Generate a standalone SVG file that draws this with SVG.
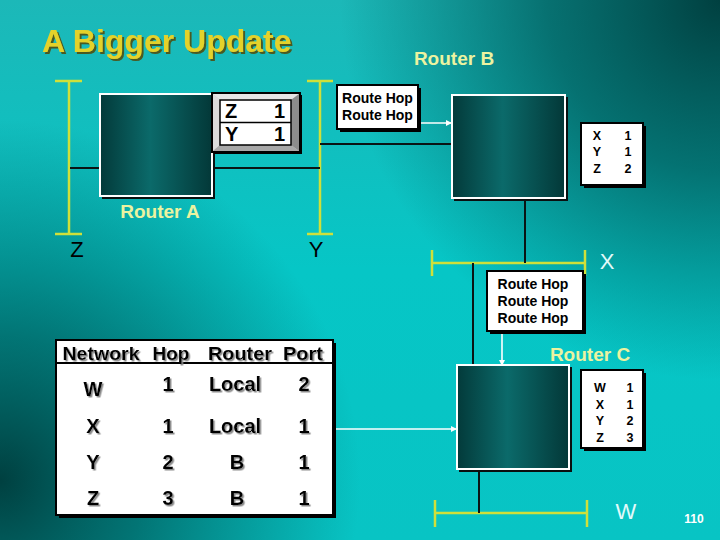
<svg xmlns="http://www.w3.org/2000/svg" width="720" height="540" viewBox="0 0 720 540">
<defs>
<radialGradient id="darkTR" cx="720" cy="0" r="380" gradientUnits="userSpaceOnUse">
<stop offset="0" stop-color="#004040" stop-opacity="1"/>
<stop offset="0.45" stop-color="#005858" stop-opacity="0.75"/>
<stop offset="1" stop-color="#006060" stop-opacity="0"/>
</radialGradient>
<radialGradient id="darkBL" cx="0" cy="480" r="360" gradientUnits="userSpaceOnUse">
<stop offset="0" stop-color="#004040" stop-opacity="1"/>
<stop offset="0.4" stop-color="#005a5a" stop-opacity="0.75"/>
<stop offset="1" stop-color="#006060" stop-opacity="0"/>
</radialGradient>
<linearGradient id="bg" x1="0" y1="0" x2="0" y2="1">
<stop offset="0" stop-color="#1cb8b8"/>
<stop offset="0.5" stop-color="#06c6c6"/>
<stop offset="1" stop-color="#08c4c4"/>
</linearGradient>
<linearGradient id="rtr" x1="0" y1="0" x2="1" y2="0">
<stop offset="0" stop-color="#033a3a"/>
<stop offset="0.45" stop-color="#0b6a6a"/>
<stop offset="1" stop-color="#033838"/>
</linearGradient>
<filter id="ts" x="-10%" y="-10%" width="130%" height="130%">
<feDropShadow dx="1.5" dy="1.5" stdDeviation="0.3" flood-color="#8a8a8a"/>
</filter>
<filter id="tts" x="-10%" y="-10%" width="130%" height="140%">
<feDropShadow dx="2" dy="2" stdDeviation="0.4" flood-color="#4a5a20"/>
</filter>
<marker id="wa" viewBox="0 0 6 6" refX="6" refY="3" markerWidth="6" markerHeight="6" markerUnits="userSpaceOnUse" orient="auto">
<path d="M0,0 L6,3 L0,6 z" fill="#ffffff"/>
</marker>
<style>
.seg{stroke:#cfe03a;stroke-width:2.5;fill:none}
.wire{stroke:#0a1414;stroke-width:2;fill:none}
.wwire{stroke:#ffffff;stroke-width:1.6;fill:none;marker-end:url(#wa)}
.router{fill:url(#rtr);stroke:#ffffff;stroke-width:2}
.rshadow{fill:#0a1010}
.box{fill:#ffffff;stroke:#000000;stroke-width:2}
.bshadow{fill:#000000}
.title{font-family:"Liberation Sans",Arial,sans-serif;font-weight:bold;font-size:32px;fill:#e4d22c}
.rlabel{font-family:"Liberation Sans",Arial,sans-serif;font-weight:bold;font-size:19px;fill:#ecf3a0}
.netk{font-family:"Liberation Sans",Arial,sans-serif;font-size:22px;fill:#000000}
.netw{font-family:"Liberation Sans",Arial,sans-serif;font-size:22px;fill:#e2fafa}
.rh{font-family:"Liberation Sans",Arial,sans-serif;font-weight:bold;font-size:14px;fill:#000000}
.sm{font-family:"Liberation Sans",Arial,sans-serif;font-weight:bold;font-size:12.5px;fill:#000000}
.big{font-family:"Liberation Sans",Arial,sans-serif;font-weight:bold;font-size:20px;fill:#000000}
.hdr{font-family:"Liberation Sans",Arial,sans-serif;font-weight:bold;font-size:18px;fill:#000000}
.pg{font-family:"Liberation Sans",Arial,sans-serif;font-weight:bold;font-size:12px;fill:#ffffff}
</style>
</defs>

<!-- background -->
<rect x="0" y="0" width="720" height="540" fill="url(#bg)"/>
<rect x="0" y="0" width="720" height="540" fill="url(#darkTR)"/>
<rect x="0" y="0" width="720" height="540" fill="url(#darkBL)"/>

<text class="title" x="42" y="52" filter="url(#tts)">A Bigger Update</text>

<!-- network segments -->
<g id="seg-Z">
<path class="seg" d="M69,81 V234 M55,81 H82 M55,234 H82"/>
<text class="netk" x="77" y="257" text-anchor="middle">Z</text>
</g>
<g id="seg-Y">
<path class="seg" d="M320,81 V234 M307,81 H333 M307,234 H333"/>
<text class="netk" x="316" y="257" text-anchor="middle">Y</text>
</g>
<g id="seg-X">
<path class="seg" d="M432,263 H585 M432,250 V276 M585,250 V276"/>
<text class="netw" x="607" y="269" text-anchor="middle">X</text>
</g>
<g id="seg-W">
<path class="seg" d="M435,513 H587 M435,500 V527 M587,500 V527"/>
<text class="netw" x="626" y="519" text-anchor="middle">W</text>
</g>

<!-- connectors -->
<g id="connectors">
<path class="wire" d="M70,168 H100"/>
<path class="wire" d="M212,168 H320"/>
<path class="wire" d="M320,144 H452"/>
<path class="wire" d="M525,198 V263"/>
<path class="wire" d="M473,263 V366"/>
<path class="wire" d="M479,469 V513"/>
<path class="wwire" d="M418,123 H452"/>
<path class="wwire" d="M502,331 V366"/>
<path class="wwire" d="M335,429 H457"/>
</g>

<!-- Router A -->
<g id="router-A">
<rect class="rshadow" x="102" y="96" width="113" height="103"/>
<rect class="router" x="100" y="94" width="112" height="102"/>
<text class="rlabel" x="160" y="218" text-anchor="middle">Router A</text>
</g>

<!-- Router A table (beveled) -->
<g id="table-A">
<rect x="214" y="95" width="88" height="59" fill="#000000"/>
<rect x="212" y="93" width="88" height="59" fill="#c4c4c4" stroke="#000000" stroke-width="2"/>
<polygon points="213,94 299,94 291,100 220,100" fill="#e6e6e6"/>
<polygon points="213,94 220,100 220,145 213,151" fill="#dcdcdc"/>
<polygon points="299,94 299,151 291,145 291,100" fill="#8c8c8c"/>
<polygon points="213,151 220,145 291,145 299,151" fill="#a8a8a8"/>
<rect x="220" y="100" width="71" height="45" fill="#ffffff" stroke="#000000" stroke-width="1.5"/>
<line x1="220" y1="122.5" x2="291" y2="122.5" stroke="#000000" stroke-width="1.5"/>
<text class="big" x="225" y="118">Z</text>
<text class="big" x="285" y="118" text-anchor="end">1</text>
<text class="big" x="225" y="141">Y</text>
<text class="big" x="285" y="141" text-anchor="end">1</text>
</g>

<!-- Router B update box -->
<g id="update-B">
<rect class="bshadow" x="340" y="88" width="81" height="44"/>
<rect class="box" x="337" y="85" width="81" height="44"/>
<text class="rh" x="377.5" y="103" text-anchor="middle">Route Hop</text>
<text class="rh" x="377.5" y="120" text-anchor="middle">Route Hop</text>
</g>

<!-- Router B -->
<g id="router-B">
<rect class="rshadow" x="454" y="97" width="114" height="104"/>
<rect class="router" x="452" y="95" width="113" height="103"/>
<text class="rlabel" x="454" y="65" text-anchor="middle">Router B</text>
</g>

<!-- Router B table -->
<g id="table-B">
<rect class="bshadow" x="584" y="126" width="62" height="62"/>
<rect class="box" x="581" y="123" width="62" height="62"/>
<text class="sm" x="597" y="140" text-anchor="middle">X</text>
<text class="sm" x="628" y="140" text-anchor="middle">1</text>
<text class="sm" x="597" y="156" text-anchor="middle">Y</text>
<text class="sm" x="628" y="156" text-anchor="middle">1</text>
<text class="sm" x="597" y="173" text-anchor="middle">Z</text>
<text class="sm" x="628" y="173" text-anchor="middle">2</text>
</g>

<!-- Router C update box -->
<g id="update-C">
<rect class="bshadow" x="490" y="274" width="96" height="60"/>
<rect class="box" x="487" y="271" width="96" height="60"/>
<text class="rh" x="533" y="289" text-anchor="middle">Route Hop</text>
<text class="rh" x="533" y="306" text-anchor="middle">Route Hop</text>
<text class="rh" x="533" y="323" text-anchor="middle">Route Hop</text>
</g>

<!-- Router C -->
<g id="router-C">
<rect class="rshadow" x="459" y="367" width="113" height="105"/>
<rect class="router" x="457" y="365" width="112" height="104"/>
<text class="rlabel" x="590" y="361" text-anchor="middle">Router C</text>
</g>

<!-- Router C table -->
<g id="table-C">
<rect class="bshadow" x="584" y="373" width="62" height="78"/>
<rect class="box" x="581" y="370" width="62" height="78"/>
<text class="sm" x="600" y="392" text-anchor="middle">W</text>
<text class="sm" x="630" y="392" text-anchor="middle">1</text>
<text class="sm" x="600" y="409" text-anchor="middle">X</text>
<text class="sm" x="630" y="409" text-anchor="middle">1</text>
<text class="sm" x="600" y="425" text-anchor="middle">Y</text>
<text class="sm" x="630" y="425" text-anchor="middle">2</text>
<text class="sm" x="600" y="442" text-anchor="middle">Z</text>
<text class="sm" x="630" y="442" text-anchor="middle">3</text>
</g>

<!-- Router C full routing table -->
<g id="table-full">
<rect class="bshadow" x="59" y="343" width="277" height="175"/>
<rect class="box" x="56" y="340" width="277" height="175"/>
<line x1="56" y1="363" x2="333" y2="363" stroke="#000000" stroke-width="2"/>
<g filter="url(#ts)">
<text class="hdr" x="101" y="360" text-anchor="middle" textLength="77" lengthAdjust="spacingAndGlyphs">Network</text>
<text class="hdr" x="171" y="360" text-anchor="middle" textLength="37" lengthAdjust="spacingAndGlyphs">Hop</text>
<text class="hdr" x="240" y="360" text-anchor="middle" textLength="64" lengthAdjust="spacingAndGlyphs">Router</text>
<text class="hdr" x="303" y="360" text-anchor="middle" textLength="40" lengthAdjust="spacingAndGlyphs">Port</text>
<text class="big" x="93" y="396" text-anchor="middle">W</text>
<text class="big" x="168" y="391" text-anchor="middle">1</text>
<text class="big" x="235" y="391" text-anchor="middle">Local</text>
<text class="big" x="304" y="391" text-anchor="middle">2</text>
<text class="big" x="93" y="433" text-anchor="middle">X</text>
<text class="big" x="168" y="433" text-anchor="middle">1</text>
<text class="big" x="235" y="433" text-anchor="middle">Local</text>
<text class="big" x="304" y="433" text-anchor="middle">1</text>
<text class="big" x="93" y="469" text-anchor="middle">Y</text>
<text class="big" x="168" y="469" text-anchor="middle">2</text>
<text class="big" x="237" y="469" text-anchor="middle">B</text>
<text class="big" x="304" y="469" text-anchor="middle">1</text>
<text class="big" x="93" y="505" text-anchor="middle">Z</text>
<text class="big" x="168" y="505" text-anchor="middle">3</text>
<text class="big" x="237" y="505" text-anchor="middle">B</text>
<text class="big" x="304" y="505" text-anchor="middle">1</text>
</g>
</g>

<text class="pg" x="694" y="523" text-anchor="middle">110</text>
</svg>
